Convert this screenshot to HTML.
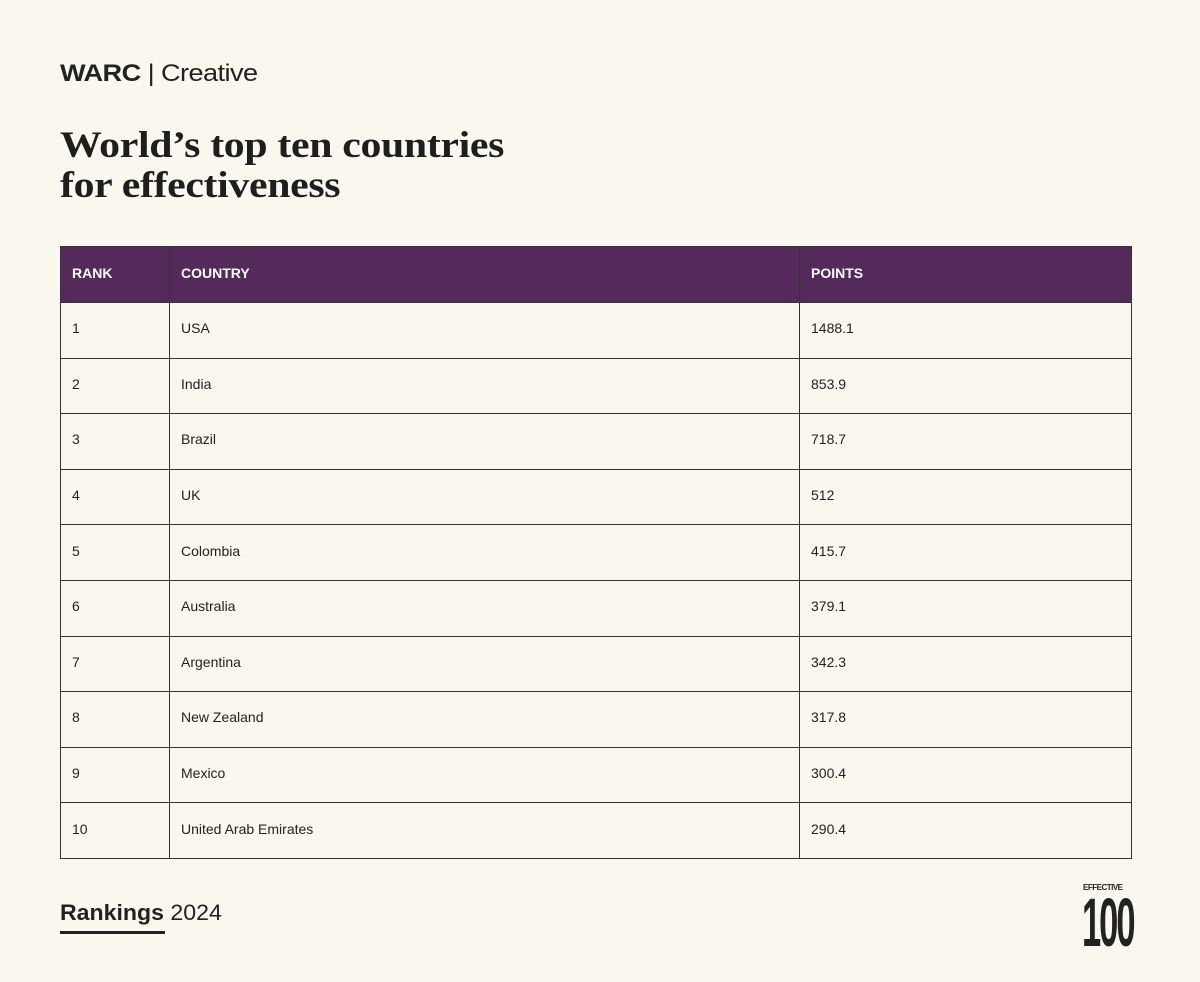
<!DOCTYPE html>
<html><head><style>
body{margin:0;width:1200px;height:982px;background:#faf7ef;position:relative;font-family:"Liberation Sans",sans-serif;color:#222;overflow:hidden}
.logo{position:absolute;left:60px;top:60px;font-size:24px;letter-spacing:-0.5px;transform:scaleX(1.13);transform-origin:left top}
.title{position:absolute;left:60px;top:126px;font-family:"Liberation Serif",serif;font-weight:bold;font-size:37px;line-height:40px;color:#1e1e1e;letter-spacing:-0.3px;transform:scaleX(1.13);transform-origin:left top;white-space:nowrap}
table{position:absolute;left:60px;top:246px;width:1072px;border-collapse:collapse;font-size:14px}
td,th{border:1px solid #333;padding:0 0 4px 11px;height:50.6px;text-align:left}
th{background:#532a5a;color:#fff;font-weight:bold;font-size:14px;height:51px}
.foot{position:absolute;left:60px;top:900px;font-size:22px;transform:scaleX(1.05);transform-origin:left top}
.bar{position:absolute;left:60px;top:931px;width:105px;height:3px;background:#222}
.e{position:absolute;left:1083px;top:883px;font-size:8px;font-weight:bold;letter-spacing:-0.5px}
.h{position:absolute;left:1082px;top:884px;font-size:69px;font-weight:bold;letter-spacing:-4px;transform:scaleX(0.5);transform-origin:left top;line-height:70px}
</style></head><body>
<div class="logo"><b>WARC</b> | Creative</div>
<div class="title">World’s top ten countries<br>for effectiveness</div>
<table>
<colgroup><col style="width:109px"><col style="width:630px"><col></colgroup>
<tr><th>RANK</th><th>COUNTRY</th><th>POINTS</th></tr>
<tr><td>1</td><td>USA</td><td>1488.1</td></tr>
<tr><td>2</td><td>India</td><td>853.9</td></tr>
<tr><td>3</td><td>Brazil</td><td>718.7</td></tr>
<tr><td>4</td><td>UK</td><td>512</td></tr>
<tr><td>5</td><td>Colombia</td><td>415.7</td></tr>
<tr><td>6</td><td>Australia</td><td>379.1</td></tr>
<tr><td>7</td><td>Argentina</td><td>342.3</td></tr>
<tr><td>8</td><td>New Zealand</td><td>317.8</td></tr>
<tr><td>9</td><td>Mexico</td><td>300.4</td></tr>
<tr><td>10</td><td>United Arab Emirates</td><td>290.4</td></tr>
</table>
<div class="foot"><b>Rankings</b> 2024</div>
<div class="bar"></div>
<div class="e">EFFECTIVE</div>
<div class="h" style="top:888px">100</div>
</body></html>
